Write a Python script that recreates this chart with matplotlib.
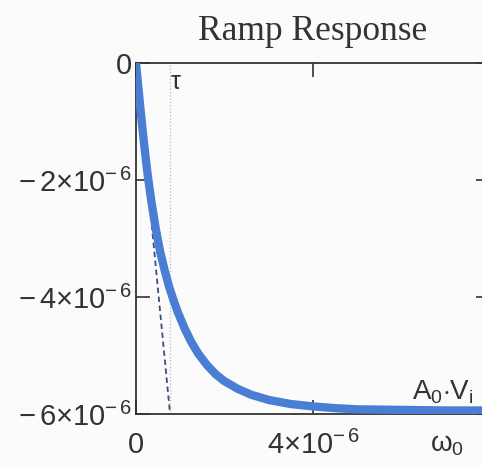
import matplotlib
matplotlib.use("Agg")
import matplotlib.pyplot as plt

# Ramp response curve (t in us, v in uV)
t_us = [0, 0.05, 0.1, 0.15, 0.2, 0.27, 0.35, 0.45, 0.55, 0.65, 0.75, 0.85,
        0.95, 1.1, 1.25, 1.4, 1.6, 1.8, 2.0, 2.3, 2.6, 3.0, 3.5, 4.0, 4.5,
        5.0, 6.0, 7.0, 8.0]
v_u = [0, -0.4, -0.78, -1.15, -1.5, -1.95, -2.38, -2.85, -3.24, -3.55, -3.83,
       -4.06, -4.27, -4.54, -4.77, -4.96, -5.16, -5.32, -5.44, -5.57, -5.67,
       -5.76, -5.83, -5.87, -5.9, -5.92, -5.93, -5.94, -5.94]
t = [x * 1e-6 for x in t_us]
v = [y * 1e-6 for y in v_u]

# tangent at the origin and time constant marker
tau = 0.77e-6
tangent_t = [0, tau]
tangent_v = [0, -6e-6]

yticks = [0, -2e-6, -4e-6, -6e-6]
ytick_labels = ['0', r'$-\,2{\times}10^{-\,6}$', r'$-\,4{\times}10^{-\,6}$',
                r'$-\,6{\times}10^{-\,6}$']
xticks = [0, 4e-6]
xtick_labels = ['0', r'$4{\times}10^{-\,6}$']

plt.rcParams['mathtext.fontset'] = 'custom'
plt.rcParams['mathtext.rm'] = 'Liberation Sans'
plt.rcParams['mathtext.it'] = 'Liberation Sans'
plt.rcParams['font.family'] = 'Liberation Sans'

fig = plt.figure(figsize=(4.82, 4.66), dpi=100, facecolor='#fbfbfb')
ax = fig.add_axes([136 / 482, 1 - 414 / 466, 354 / 482, 351 / 466])
ax.set_facecolor('#fbfbfb')

ax.plot(t, v, color='#4a7ed4', lw=6, solid_capstyle='butt',
        solid_joinstyle='round', zorder=3)
ax.plot(tangent_t, tangent_v, color='#3a4f7a', lw=1.3, ls=(0, (3, 2)), zorder=2)
ax.axvline(tau, color='#b8b8b8', lw=0.9, ls=':', zorder=1)

ax.set_xlim(0, 8e-6)
ax.set_ylim(-6e-6, 0)

ax.set_yticks(yticks)
ax.set_yticklabels(ytick_labels, fontsize=21, color='#333333')
ax.set_xticks(xticks)
ax.set_xticklabels(xtick_labels, fontsize=21, color='#333333')
ax.tick_params(direction='in', length=10, width=1.2, color='#333333',
               top=True, right=True)
ax.tick_params(axis='x', pad=12)
ax.tick_params(axis='y', pad=3)
for s in ax.spines.values():
    s.set_color('#333333')
    s.set_linewidth(1.3)

ax.text(tau + 0.0e-6, -0.45e-6, r'$\tau$', fontsize=18, color='#333333',
        family='DejaVu Serif')
fig.text(412 / 482, 1 - 400 / 466, r'$A_0{\cdot}V_i$', fontsize=20, color='#333333')
fig.text(430 / 482, 1 - 452 / 466, r'$\omega_0$', fontsize=20, color='#333333')
fig.text(313 / 482, 1 - 31 / 466, 'Ramp Response', fontsize=25.5, ha='center',
         va='center', family='Liberation Serif', color='#333333')

fig.savefig('out.png', dpi=100, facecolor=fig.get_facecolor())
